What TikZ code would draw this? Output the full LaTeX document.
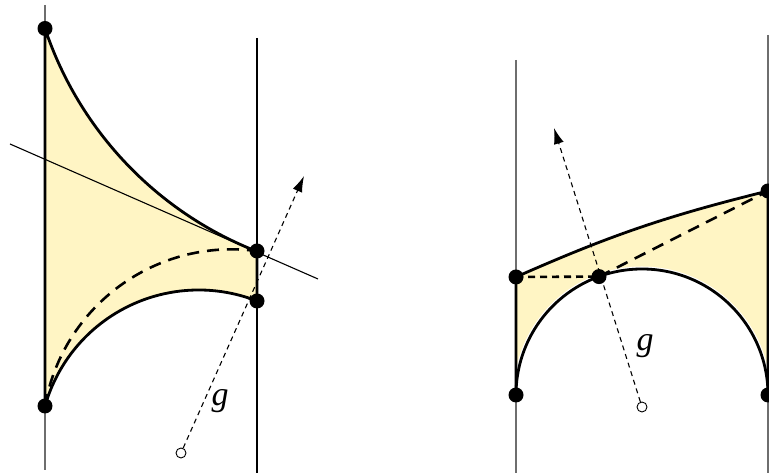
\documentclass[tikz,border=0pt]{standalone}
\usepackage{fontspec}
\setmainfont{Liberation Serif}
\usetikzlibrary{arrows.meta}
\definecolor{fillyellow}{RGB}{255,245,196}
\definecolor{lgray}{RGB}{110,110,110}
\begin{document}
\begin{tikzpicture}[x=1pt,y=1pt,
  dot/.style={circle,fill=black,inner sep=0pt,minimum size=15pt},
  odot/.style={circle,draw=black,fill=white,line width=0.9pt,inner sep=0pt,minimum size=10pt},
  bold/.style={line width=2.8pt,line join=round},
  thinl/.style={line width=1.1pt},
  thinlg/.style={line width=1.1pt,draw=lgray},
  guide/.style={line width=1.1pt,dash pattern=on 5pt off 4pt,-{Latex[length=16pt,width=10pt]}},
  bigdash/.style={line width=2.6pt,dash pattern=on 12pt off 8pt},
  smalldash/.style={line width=2.6pt,dash pattern=on 7pt off 5pt},
  lbl/.style={font=\fontsize{34}{34}\selectfont\itshape,inner sep=0pt}]
\useasboundingbox (0,0) rectangle (769,473);
\clip (0,0) rectangle (769,473);
% ---------- left figure ----------
\coordinate (A) at (45,444.5);
\coordinate (B) at (45,67);
\coordinate (C) at (257,222);
\coordinate (D) at (257,172);
\coordinate (L1t) at (45,468);
\coordinate (L1b) at (45,3);
\coordinate (L2t) at (257,435);
\coordinate (L2b) at (257,0);
\coordinate (Ts) at (10,329);
\coordinate (Te) at (318,194);
\coordinate (T1) at (304,297);
\fill[fillyellow] (A) arc[start angle=198.5,end angle=248.6,radius=363.3] -- (D)
   arc[start angle=68.6,end angle=164.1,radius=159.8] -- cycle;
\draw[thinlg] (L1t) -- (L1b);
\draw[thinl] (L2t) -- (L2b);
\draw[thinl] (Ts) -- (Te);
\draw[bold] (A) arc[start angle=198.5,end angle=248.6,radius=363.3] -- (D)
   arc[start angle=68.6,end angle=164.1,radius=159.8] -- cycle;
\draw[bigdash] (B) arc[start angle=170,end angle=82.3,radius=189.6];
\node[odot] (O1) at (181,20) {};
\draw[guide] (O1) -- (T1);
\node[lbl] (g1) at (220,72) {g};
\foreach \p in {A,B,C,D} \node[dot] (d\p) at (\p) {};
% ---------- right figure ----------
\coordinate (E) at (516,196);
\coordinate (F) at (516,78);
\coordinate (G) at (768,282);
\coordinate (H) at (768,78);
\coordinate (I) at (599,196.4);
\coordinate (R1t) at (516,413);
\coordinate (R1b) at (516,0);
\coordinate (R2t) at (768,438);
\coordinate (R2b) at (768,0);
\coordinate (T2) at (554,345);
\fill[fillyellow] (E) to[bend left=5] (G) -- (H) arc[start angle=0,end angle=180,radius=126] -- cycle;
\draw[thinlg] (R1t) -- (R1b);
\draw[thinlg] (R2t) -- (R2b);
\draw[white,line width=5pt] (F) arc[start angle=180,end angle=0,radius=126];
\draw[bold] (F) arc[start angle=180,end angle=0,radius=126];
\draw[bold] (H) -- (G) to[bend right=5] (E) -- (F);
\draw[smalldash] (E) -- (I);
\draw[bigdash] (I) -- (G);
\node[odot] (O2) at (642,66) {};
\draw[guide] (O2) -- (T2);
\node[lbl] (g2) at (645,127) {g};
\foreach \p in {E,F,G,H,I} \node[dot] (d\p) at (\p) {};
\end{tikzpicture}
\end{document}
